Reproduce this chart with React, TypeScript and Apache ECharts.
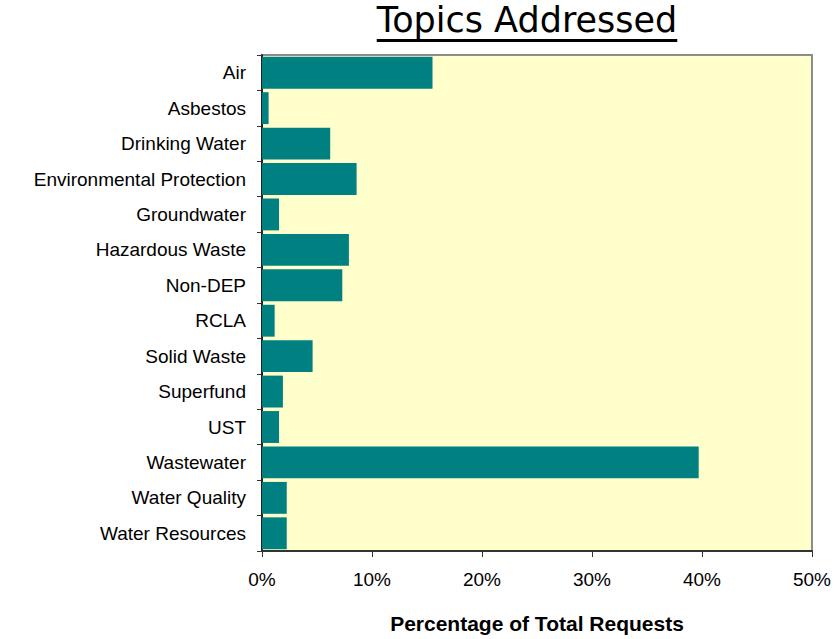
import React, { useEffect, useRef } from "react";
import * as echarts from "echarts";

const categories = [
  "Air",
  "Asbestos",
  "Drinking Water",
  "Environmental Protection",
  "Groundwater",
  "Hazardous Waste",
  "Non-DEP",
  "RCLA",
  "Solid Waste",
  "Superfund",
  "UST",
  "Wastewater",
  "Water Quality",
  "Water Resources",
];
const percentValues = [15.5, 0.6, 6.2, 8.6, 1.55, 7.9, 7.3, 1.15, 4.6, 1.9, 1.55, 39.7, 2.25, 2.25];
const titleText = "Topics Addressed";
const axisTitle = "Percentage of Total Requests";

export default function App() {
  const ref = useRef<HTMLDivElement>(null);
  useEffect(() => {
    if (!ref.current) return;
    const chart = echarts.init(ref.current, undefined, { renderer: "svg" });
    const titleFont = "35px 'DejaVu Sans'";
    let tw = 300;
    try {
      const c = document.createElement("canvas").getContext("2d");
      if (c) {
        c.font = titleFont;
        tw = c.measureText(titleText).width;
      }
    } catch (e) {}
    const cx = 527;
    chart.setOption({
      animation: false,
      backgroundColor: "#ffffff",
      grid: {
        left: 262,
        top: 55,
        right: 22,
        bottom: 88,
        show: true,
        backgroundColor: "#FFFFCC",
        borderColor: "#8c8c8c",
        borderWidth: 2,
      },
      graphic: [
        {
          type: "text",
          x: cx,
          y: 37,
          style: {
            text: titleText,
            font: titleFont,
            fill: "#000",
            textAlign: "center",
            textVerticalAlign: "bottom",
          },
        },
        {
          type: "rect",
          shape: { x: cx - tw / 2, y: 39, width: tw, height: 3 },
          style: { fill: "#000" },
        },
      ],
      xAxis: {
        type: "value",
        min: 0,
        max: 50,
        interval: 10,
        axisLine: { show: true, lineStyle: { color: "#333", width: 2 } },
        axisTick: { show: true, length: 6, lineStyle: { color: "#333" } },
        splitLine: { show: false },
        axisLabel: {
          formatter: "{value}%",
          color: "#000",
          fontFamily: "'Liberation Sans', Arial, sans-serif",
          fontSize: 19,
          margin: 19,
        },
        name: axisTitle,
        nameLocation: "middle",
        nameGap: 62,
        nameTextStyle: {
          color: "#000",
          fontFamily: "'Liberation Sans', Arial, sans-serif",
          fontSize: 21,
          fontWeight: "bold",
        },
      },
      yAxis: {
        type: "category",
        data: categories,
        inverse: true,
        axisLine: { show: true, lineStyle: { color: "#222", width: 2 } },
        axisTick: { show: true, length: 5, lineStyle: { color: "#333" } },
        axisLabel: {
          color: "#000",
          fontFamily: "'Liberation Sans', Arial, sans-serif",
          fontSize: 19,
          margin: 16,
        },
      },
      series: [
        {
          type: "bar",
          data: percentValues,
          barCategoryGap: "10%",
          itemStyle: { color: "#008080" },
        },
      ],
    });
    return () => chart.dispose();
  }, []);
  return (
    <div
      ref={ref}
      style={{ position: "absolute", left: 0, top: 0, width: 834, height: 639 }}
    />
  );
}
